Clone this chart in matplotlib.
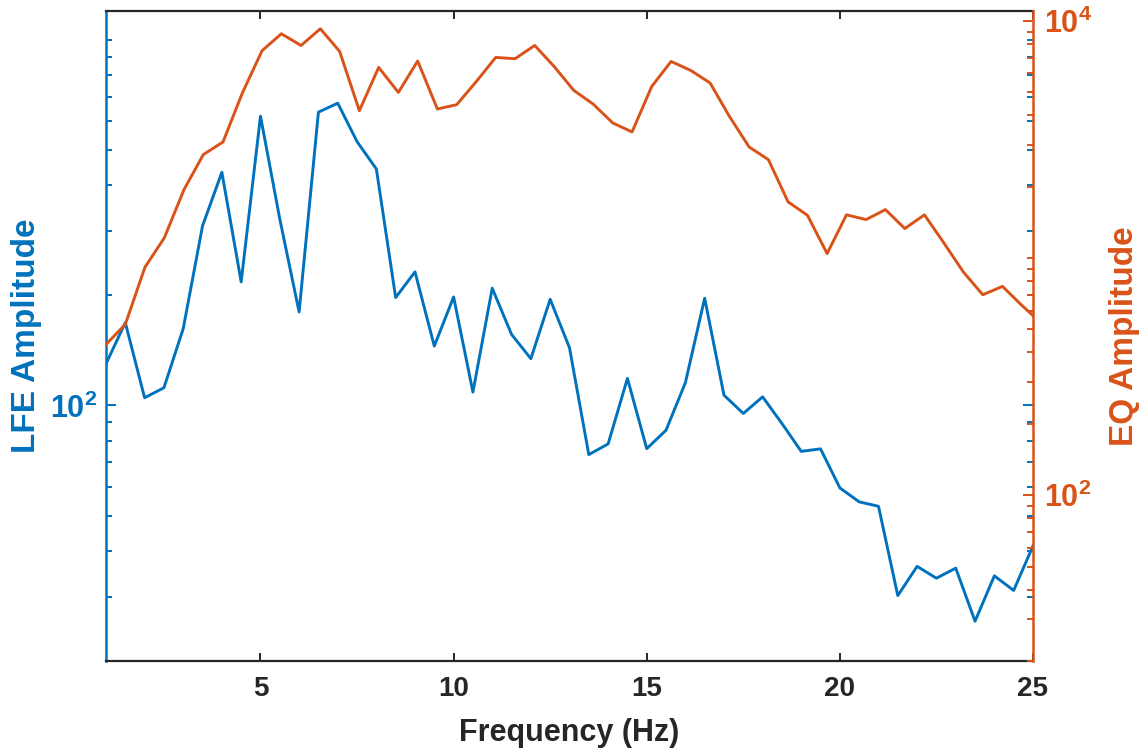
"""
LFE vs EQ amplitude spectra on twin log axes (MATLAB yyaxis look).
"""

import matplotlib
matplotlib.use("Agg")
import matplotlib.pyplot as plt
import numpy as np
from matplotlib.ticker import FixedLocator, FixedFormatter, LogLocator, NullFormatter


BLUE = "#0072BD"
ORANGE = "#D95319"
DARK = "#262626"

# LFE spectrum, 0.5 Hz grid
LFE_FREQ = [
    1.0, 1.5, 2.0, 2.5, 3.0, 3.5, 4.0, 4.5, 5.0, 5.5,
    6.0, 6.5, 7.0, 7.5, 8.0, 8.5, 9.0, 9.5, 10.0, 10.5,
    11.0, 11.5, 12.0, 12.5, 13.0, 13.5, 14.0, 14.5, 15.0, 15.5,
    16.0, 16.5, 17.0, 17.5, 18.0, 18.5, 19.0, 19.5, 20.0, 20.5,
    21.0, 21.5, 22.0, 22.5, 23.0, 23.5, 24.0, 24.5, 25.0,
]
LFE_AMP = [
    130, 168.5, 105, 111.8, 162.3, 310, 434.5, 217.8, 618.5, 323.6,
    180.2, 634.3, 671.4, 527, 443.6, 197.4, 232, 145.4, 198.1, 108.8,
    209.3, 156.5, 134.3, 195.2, 143.9, 73.4, 78.5, 118.6, 76.2, 85.6,
    115.4, 196.5, 106.7, 95.1, 105.6, 89.3, 74.9, 76.1, 59.5, 54.5,
    53.0, 30.2, 36.3, 33.7, 35.9, 25.7, 34.2, 31.2, 41.3,
]

# EQ spectrum, slightly wider frequency step
EQ_FREQ = [
    1.00, 1.50, 2.01, 2.51, 3.02, 3.52, 4.03, 4.53, 5.04, 5.54,
    6.05, 6.55, 7.05, 7.56, 8.06, 8.57, 9.07, 9.58, 10.08, 10.59,
    11.09, 11.59, 12.10, 12.60, 13.11, 13.61, 14.12, 14.62, 15.13, 15.63,
    16.14, 16.64, 17.14, 17.65, 18.15, 18.66, 19.16, 19.67, 20.17, 20.68,
    21.18, 21.68, 22.19, 22.69, 23.20, 23.70, 24.21, 24.71, 25.22,
]
EQ_AMP = [
    432, 525, 915, 1216, 1943, 2728, 3085, 4961, 7477, 8816,
    7870, 9254, 7426, 4178, 6360, 4991, 6766, 4248, 4429, 5553,
    7007, 6918, 7870, 6423, 5090, 4459, 3710, 3399, 5289, 6740,
    6176, 5468, 3954, 2939, 2598, 1724, 1514, 1044, 1520, 1452,
    1600, 1331, 1520, 1159, 872, 700, 759, 632, 530,
]

X_TICKS = [5, 10, 15, 20, 25]
LFE_TICKS = [100]
LFE_TICK_LABELS = [r"$10^{2}$"]
EQ_TICKS = [100, 10000]
EQ_TICK_LABELS = [r"$10^{2}$", r"$10^{4}$"]


def main() -> None:
    plt.rcParams["font.family"] = ["Liberation Sans", "DejaVu Sans"]
    plt.rcParams["font.weight"] = "bold"
    plt.rcParams["axes.labelweight"] = "bold"
    plt.rcParams["mathtext.fontset"] = "custom"
    plt.rcParams["mathtext.rm"] = "Liberation Sans:bold"
    plt.rcParams["mathtext.it"] = "Liberation Sans:bold"
    plt.rcParams["mathtext.bf"] = "Liberation Sans:bold"
    plt.rcParams["mathtext.default"] = "rm"

    fig = plt.figure(figsize=(11.47, 7.51), dpi=100)
    ax = fig.add_axes([0.0924, 0.1198, 0.8082, 0.8656])

    ax.plot(LFE_FREQ, LFE_AMP, color=BLUE, linewidth=2.1)
    ax.set_yscale("log")
    ax.set_xlim(1, 25)
    ax.set_ylim(20, 1200)

    ax2 = ax.twinx()
    ax2.plot(EQ_FREQ, EQ_AMP, color=ORANGE, linewidth=2.1)
    ax2.set_yscale("log")
    ax2.set_ylim(20, 11000)

    # x axis
    ax.set_xticks(X_TICKS)
    ax.set_xticklabels([str(t) for t in X_TICKS])
    ax.tick_params(axis="x", which="major", direction="in", top=True, bottom=True,
                   length=6, width=1.4, colors=DARK, labelsize=20, pad=11)
    ax.tick_params(axis="x", which="minor", bottom=False, top=False)
    ax.set_xlabel("Frequency (Hz)", fontsize=22, color=DARK, labelpad=11)

    # left (LFE) axis, ticks mirrored on the right side
    ax.yaxis.set_major_locator(FixedLocator(LFE_TICKS))
    ax.yaxis.set_major_formatter(FixedFormatter(LFE_TICK_LABELS))
    ax.yaxis.set_minor_locator(LogLocator(base=10, subs=np.arange(1.0, 10.0), numticks=30))
    ax.yaxis.set_minor_formatter(NullFormatter())
    ax.tick_params(axis="y", which="both", direction="in", left=True, right=True,
                   colors=BLUE, labelsize=22, width=1.4)
    ax.tick_params(axis="y", which="major", length=7.5, pad=6)
    ax.tick_params(axis="y", which="minor", length=4.5)
    ax.set_ylabel("LFE Amplitude", fontsize=24, color=BLUE, labelpad=6)

    # right (EQ) axis
    ax2.yaxis.set_major_locator(FixedLocator(EQ_TICKS))
    ax2.yaxis.set_major_formatter(FixedFormatter(EQ_TICK_LABELS))
    ax2.yaxis.set_minor_locator(LogLocator(base=10, subs=np.arange(1.0, 10.0), numticks=30))
    ax2.yaxis.set_minor_formatter(NullFormatter())
    ax2.tick_params(axis="y", which="both", direction="in", left=False, right=True,
                    colors=ORANGE, labelsize=22, width=1.4)
    ax2.tick_params(axis="y", which="major", length=7.5, pad=8)
    ax2.tick_params(axis="y", which="minor", length=4.5)
    ax2.set_ylabel("EQ Amplitude", fontsize=24, color=ORANGE, labelpad=12)

    for side in ("top", "bottom"):
        ax.spines[side].set_color(DARK)
        ax.spines[side].set_linewidth(1.6)
        ax2.spines[side].set_visible(False)
    ax.spines["left"].set_color(BLUE)
    ax.spines["left"].set_linewidth(1.8)
    ax.spines["right"].set_visible(False)
    ax2.spines["left"].set_visible(False)
    ax2.spines["right"].set_color(ORANGE)
    ax2.spines["right"].set_linewidth(1.8)

    fig.savefig("out.png", dpi=100, facecolor="white")


if __name__ == "__main__":
    main()
